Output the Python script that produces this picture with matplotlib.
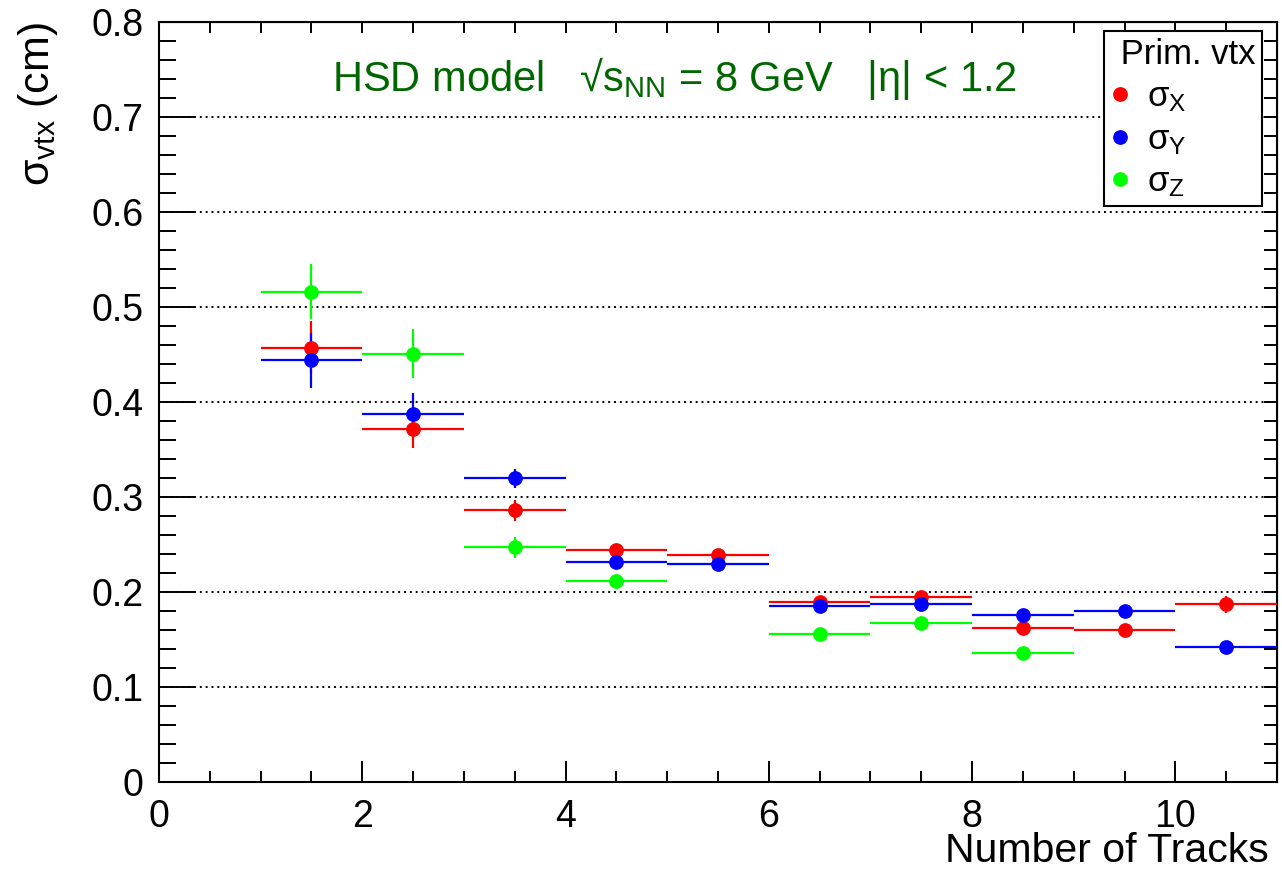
import numpy as np
import matplotlib
matplotlib.use("Agg")
import matplotlib.pyplot as plt
from matplotlib.ticker import MultipleLocator, FormatStrFormatter
from matplotlib.lines import Line2D

plt.rcParams["font.family"] = ["Liberation Sans", "DejaVu Sans"]
plt.rcParams["mathtext.fontset"] = "custom"
plt.rcParams["mathtext.rm"] = "Liberation Sans"
plt.rcParams["mathtext.it"] = "Liberation Sans:italic"

# bins of track multiplicity (centres), half width 0.5
n_tracks = [1.5, 2.5, 3.5, 4.5, 5.5, 6.5, 7.5, 8.5, 9.5, 10.5]
sigma_x = [0.457, 0.372, 0.286, 0.244, 0.239, 0.190, 0.195, 0.162, 0.160, 0.187]
sigma_x_err = [0.028, 0.020, 0.011, 0.004, 0.004, 0.004, 0.004, 0.004, 0.004, 0.009]
sigma_y = [0.444, 0.387, 0.320, 0.232, 0.230, 0.185, 0.187, 0.176, 0.180, 0.142]
sigma_y_err = [0.029, 0.022, 0.010, 0.004, 0.004, 0.004, 0.004, 0.004, 0.004, 0.004]
nan = np.nan
sigma_z = [0.516, 0.451, 0.247, 0.212, nan, 0.156, 0.167, 0.136, nan, nan]
sigma_z_err = [0.029, 0.026, 0.011, 0.004, nan, 0.004, 0.004, 0.004, nan, nan]

series = [
    ("σ$_{\\mathrm{X}}$", sigma_x, sigma_x_err, "#ff0000"),
    ("σ$_{\\mathrm{Y}}$", sigma_y, sigma_y_err, "#0000ff"),
    ("σ$_{\\mathrm{Z}}$", sigma_z, sigma_z_err, "#00ff00"),
]

fig = plt.figure(figsize=(12.82, 8.85), dpi=100)
ax = fig.add_axes([159 / 1282, 1 - 782 / 885, 1118 / 1282, 760 / 885])

handles = []
for label, vals, errs, col in series:
    ax.errorbar(n_tracks, vals, xerr=0.5, yerr=errs, fmt="o", color=col,
                ms=9.6, elinewidth=1.6, capsize=0, zorder=3)
    handles.append(Line2D([], [], marker="o", ls="none", color=col, ms=9.6, label=label))

ax.set_xlim(0, 11)
ax.set_ylim(0, 0.8)
ax.xaxis.set_major_locator(MultipleLocator(2))
ax.xaxis.set_minor_locator(MultipleLocator(0.5))
ax.yaxis.set_major_locator(MultipleLocator(0.1))
ax.yaxis.set_minor_locator(MultipleLocator(0.02))
ax.xaxis.set_major_formatter(FormatStrFormatter("%g"))
ax.yaxis.set_major_formatter(FormatStrFormatter("%g"))

ax.tick_params(axis="both", which="both", direction="in", width=1.4, labelsize=27, color="black")
ax.tick_params(axis="x", which="major", length=15, pad=12)
ax.tick_params(axis="x", which="minor", length=8)
ax.tick_params(axis="y", which="major", length=26, pad=11)
ax.tick_params(axis="y", which="minor", length=12)
for s in ax.spines.values():
    s.set_linewidth(1.5)

# ticks on the opposite sides (shorter, no labels)
top = ax.secondary_xaxis("top")
top.xaxis.set_major_locator(MultipleLocator(2))
top.xaxis.set_minor_locator(MultipleLocator(0.5))
top.tick_params(which="both", direction="in", length=8, width=1.4, labeltop=False)
right = ax.secondary_yaxis("right")
right.yaxis.set_major_locator(MultipleLocator(0.1))
right.yaxis.set_minor_locator(MultipleLocator(0.02))
right.tick_params(which="both", direction="in", length=9.5, width=1.4, labelright=False)

ax.yaxis.grid(True, which="major", color="black", linestyle=(0, (1, 2)), linewidth=1.4)
ax.set_axisbelow(True)

ax.set_xlabel("Number of Tracks", fontsize=29.5)
ax.xaxis.set_label_coords(0.993, -0.066)
ax.xaxis.label.set_horizontalalignment("right")
fig.text(38 / 1282, 1 - 22 / 885, "σ$_{\\mathrm{vtx}}$ (cm)", rotation=90,
         ha="center", va="top", fontsize=31)

ax.text(0.4615, 0.909, "HSD model   √s$_{\\mathrm{NN}}$ = 8 GeV   |η| < 1.2",
        transform=ax.transAxes, ha="center", va="baseline", fontsize=30, color="#006600")

leg = ax.legend(handles=handles, title=" Prim. vtx", loc="upper right",
                bbox_to_anchor=(0.987, 0.988), fontsize=25, title_fontsize=25,
                frameon=True, fancybox=False, edgecolor="black", framealpha=1,
                borderpad=0.2, labelspacing=0.26, handletextpad=0.52,
                handlelength=0.52, borderaxespad=0, alignment="left")
leg.get_frame().set_linewidth(1.5)

fig.savefig("out.png", dpi=100)
